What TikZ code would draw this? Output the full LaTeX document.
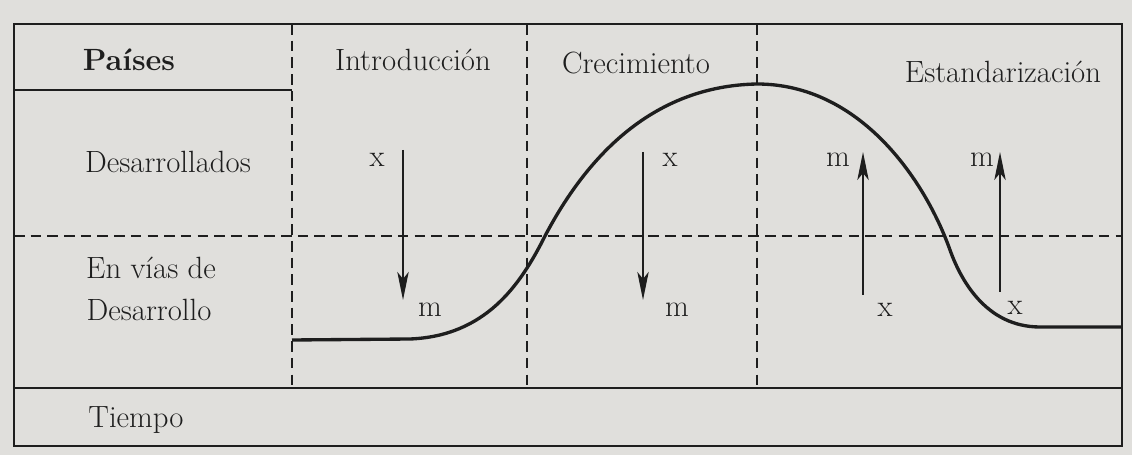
\documentclass[tikz,border=0pt]{standalone}
\usepackage{tikz}
\usetikzlibrary{arrows.meta,positioning}
\definecolor{paper}{RGB}{224,223,220}
\definecolor{ink}{RGB}{30,30,30}
\tikzset{
  lbl/.style={font=\fontsize{17.5}{21}\selectfont, text=ink, inner sep=1pt},
  grid/.style={ink, line width=1.6pt, dash pattern=on 6pt off 3.5pt},
  frame/.style={ink, line width=0.8pt},
  flow/.style={ink, line width=0.9pt, -{Stealth[length=16pt,width=6.5pt,inset=4pt]}},
}
\begin{document}
\begin{tikzpicture}[x=0.02cm,y=-0.02cm]
\useasboundingbox[fill=paper] (0,0) rectangle (1132,455);
% Frame
\draw[frame] (14,24) rectangle (1122,446);
\draw[frame] (14,90) -- (292,90);
\draw[frame] (14,388) -- (1122,388);

% Dashed grid
\draw[grid] (14,236) -- (1122,236);
\foreach \x in {292,527,757}
  \draw[grid] (\x,24) -- (\x,388);

% Life cycle curve
\draw[ink, line width=1.9pt] (292,340) -- (410,339)
  .. controls (485,336) and (520,286) .. (545,236)
  .. controls (585,160) and (650,86) .. (757,84)
  .. controls (860,84) and (925,180) .. (950,250)
  .. controls (960,278) and (985,327) .. (1040,327) -- (1122,327);

% Headers
\node[lbl] (paises) at (129,60) {\textbf{Países}};
\node[lbl] (intro) at (413,60) {Introducción};
\node[lbl] (crec) at (636,63) {Crecimiento};
\node[lbl] (estand) at (1003,72) {Estandarización};

% Rows
\node[lbl] (desa) at (168,162) {Desarrollados};
\node[lbl] (vias) at (151,268) {En vías de};
\node[lbl] (desb) at (149,310) {Desarrollo};
\node[lbl] (tiempo) at (136,420) {Tiempo};

% Trade flows
\foreach \i/\x/\yfrom/\yto in {1/403/150/300, 2/643/152/300, 3/863/295/152, 4/1000/292/152} {
  \coordinate (f\i s) at (\x,\yfrom);
  \coordinate (f\i e) at (\x,\yto);
  \draw[flow] (f\i s) -- (f\i e);
}
\node[lbl] (x1) at (377,160) {x};
\node[lbl] (m1) at (430,310) {m};
\node[lbl] (x2) at (670,160) {x};
\node[lbl] (m2) at (677,310) {m};
\node[lbl] (m3) at (838,160) {m};
\node[lbl] (x3) at (885,310) {x};
\node[lbl] (m4) at (982,160) {m};
\node[lbl] (x4) at (1015,308) {x};
\end{tikzpicture}
\end{document}
